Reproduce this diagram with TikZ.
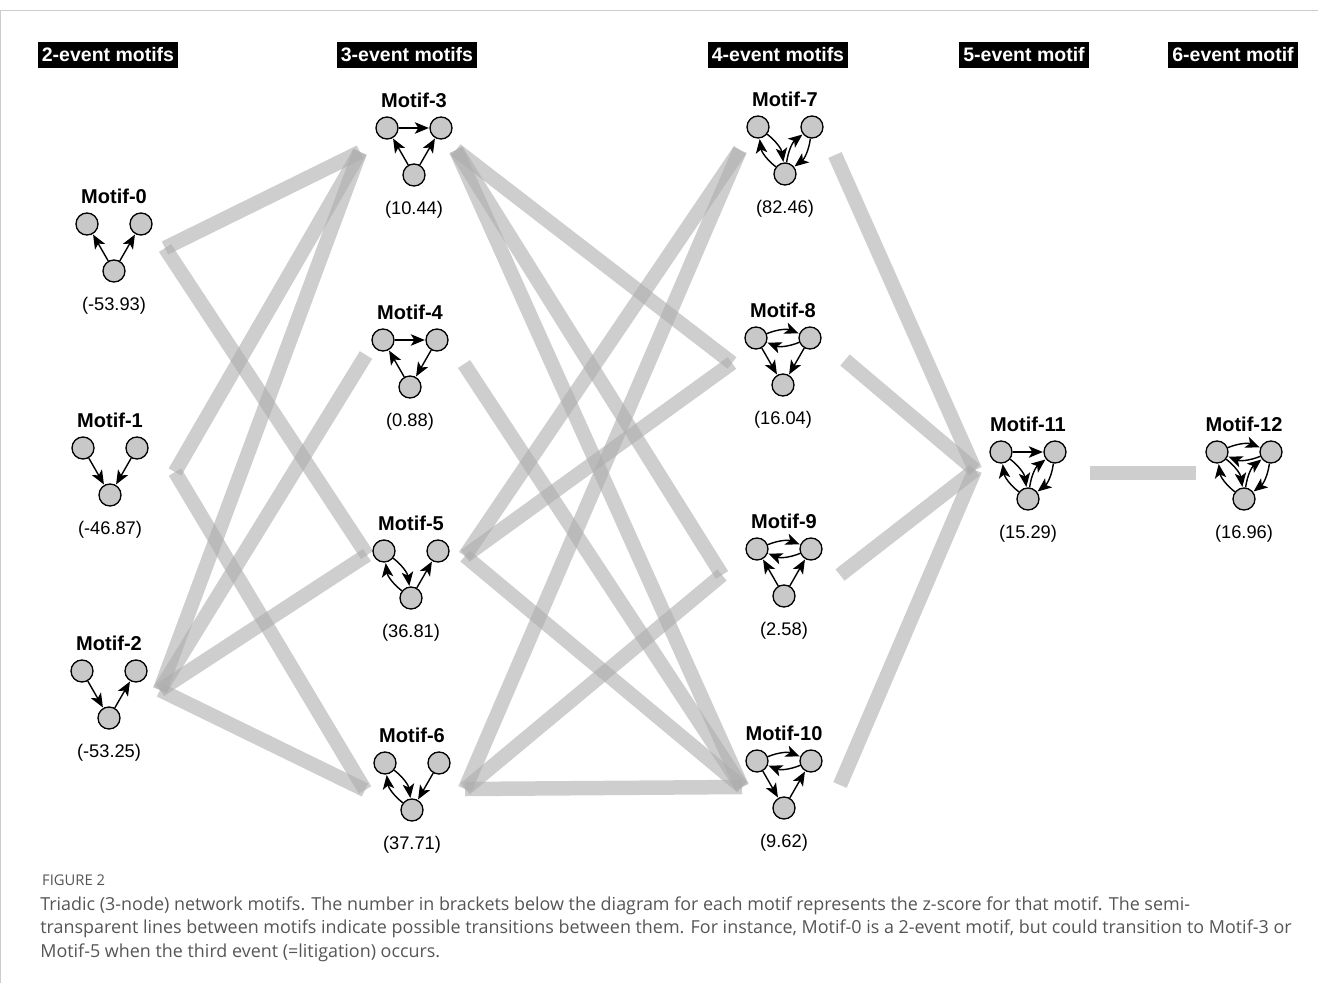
\documentclass[tikz,border=0pt]{standalone}
\usepackage{fontspec}
\setmainfont{Liberation Sans}
\newfontfamily\capfont{Open Sans}
\usetikzlibrary{arrows.meta}

\definecolor{dotgray}{RGB}{200,200,200}
\definecolor{capgray}{RGB}{85,85,85}

\tikzstyle{dot} = [circle, draw, line width=0.75pt, fill=dotgray, minimum size=0.44cm, inner sep=0pt]
\tikzstyle{arr} = [-{Stealth[length=0.28cm,width=0.23cm,inset=0.07cm]}, line width=0.8pt, shorten >=0.3pt]
\tikzstyle{mtitle} = [font=\bfseries\fontsize{11.4}{13}\selectfont]
\tikzstyle{score} = [font=\fontsize{10.4}{12}\selectfont]
\tikzstyle{hdr} = [fill=black, text=white, font=\bfseries\fontsize{11.1}{13}\selectfont, minimum height=0.5cm, inner xsep=0.08cm]
\tikzstyle{link} = [line width=0.29cm, draw=black!32, draw opacity=0.6]

% one triadic motif: name, x, y of upper row, title, z-score
\newcommand{\motif}[5]{%
\node[mtitle] (#1t) at (#2,#3-28) {#4};
\node[dot] (#1a) at (#2-27,#3) {};
\node[dot] (#1b) at (#2+27,#3) {};
\node[dot] (#1c) at (#2,#3+47) {};
\node[score] (#1s) at (#2,#3+82) {#5};
}

\begin{document}
\begin{tikzpicture}[x=0.02cm,y=-0.02cm]
\useasboundingbox (0,0) rectangle (1318,983);
\draw[black!20] (0,10) -- (1318,10);
\draw[black!20] (0.5,10) -- (0.5,983);

% ends of the transition lines
\coordinate (r0) at (165,248);
\coordinate (r1) at (175,472);
\coordinate (r2) at (160,690);
\coordinate (l3) at (360,152);
\coordinate (l4) at (366,355);
\coordinate (l5) at (367,555);
\coordinate (l6) at (365,790);
\coordinate (r3) at (456,150);
\coordinate (r4) at (464,364);
\coordinate (r5) at (465,556);
\coordinate (r6) at (465,789);
\coordinate (l7) at (740,150);
\coordinate (l8) at (732,363);
\coordinate (l9) at (722,575);
\coordinate (l10) at (742,787);
\coordinate (r7) at (835,155);
\coordinate (r8) at (845,360);
\coordinate (r9) at (840,575);
\coordinate (r10) at (840,785);
\coordinate (l11) at (975,470);
\coordinate (r11) at (1090,473);
\coordinate (l12) at (1196,473);

\draw[link] (r0) -- (l3);
\draw[link] (r0) -- (l5);
\draw[link] (r1) -- (l3);
\draw[link] (r1) -- (l6);
\draw[link] (r2) -- (l3);
\draw[link] (r2) -- (l4);
\draw[link] (r2) -- (l5);
\draw[link] (r2) -- (l6);
\draw[link] (r3) -- (l8);
\draw[link] (r3) -- (l9);
\draw[link] (r3) -- (l10);
\draw[link] (r4) -- (l10);
\draw[link] (r5) -- (l7);
\draw[link] (r5) -- (l8);
\draw[link] (r5) -- (l10);
\draw[link] (r6) -- (l7);
\draw[link] (r6) -- (l9);
\draw[link] (r6) -- (l10);
\draw[link] (r7) -- (l11);
\draw[link] (r8) -- (l11);
\draw[link] (r9) -- (l11);
\draw[link] (r10) -- (l11);
\draw[link] (r11) -- (l12);

% column headers
\node[hdr] (h2) at (108,55) {2-event motifs};
\node[hdr] (h3) at (407,55) {3-event motifs};
\node[hdr] (h4) at (778,55) {4-event motifs};
\node[hdr] (h5) at (1024,55) {5-event motif};
\node[hdr] (h6) at (1233,55) {6-event motif};

\motif{m0}{114}{224}{Motif-0}{(-53.93)}
\motif{m1}{110}{448}{Motif-1}{(-46.87)}
\motif{m2}{109}{671}{Motif-2}{(-53.25)}
\motif{m3}{414}{128}{Motif-3}{(10.44)}
\motif{m4}{410}{340}{Motif-4}{(0.88)}
\motif{m5}{411}{551}{Motif-5}{(36.81)}
\motif{m6}{412}{763}{Motif-6}{(37.71)}
\motif{m7}{785}{127}{Motif-7}{(82.46)}
\motif{m8}{783}{338}{Motif-8}{(16.04)}
\motif{m9}{784}{549}{Motif-9}{(2.58)}
\motif{m10}{784}{761}{Motif-10}{(9.62)}
\motif{m11}{1028}{452}{Motif-11}{(15.29)}
\motif{m12}{1244}{452}{Motif-12}{(16.96)}

% edges inside the motifs
\draw[arr] (m0c) -- (m0a);
\draw[arr] (m0c) -- (m0b);
\draw[arr] (m1a) -- (m1c);
\draw[arr] (m1b) -- (m1c);
\draw[arr] (m2a) -- (m2c);
\draw[arr] (m2c) -- (m2b);
\draw[arr] (m3a) -- (m3b);
\draw[arr] (m3c) -- (m3a);
\draw[arr] (m3c) -- (m3b);
\draw[arr] (m4a) -- (m4b);
\draw[arr] (m4b) -- (m4c);
\draw[arr] (m4c) -- (m4a);
\draw[arr] (m5a) to[bend left=22] (m5c);
\draw[arr] (m5c) to[bend left=22] (m5a);
\draw[arr] (m5c) -- (m5b);
\draw[arr] (m6a) to[bend left=22] (m6c);
\draw[arr] (m6c) to[bend left=22] (m6a);
\draw[arr] (m6b) -- (m6c);
\draw[arr] (m7a) to[bend left=22] (m7c);
\draw[arr] (m7c) to[bend left=22] (m7a);
\draw[arr] (m7b) to[bend left=22] (m7c);
\draw[arr] (m7c) to[bend left=22] (m7b);
\draw[arr] (m8a) to[bend left=22] (m8b);
\draw[arr] (m8b) to[bend left=22] (m8a);
\draw[arr] (m8a) -- (m8c);
\draw[arr] (m8b) -- (m8c);
\draw[arr] (m9a) to[bend left=22] (m9b);
\draw[arr] (m9b) to[bend left=22] (m9a);
\draw[arr] (m9c) -- (m9a);
\draw[arr] (m9c) -- (m9b);
\draw[arr] (m10a) to[bend left=22] (m10b);
\draw[arr] (m10b) to[bend left=22] (m10a);
\draw[arr] (m10a) -- (m10c);
\draw[arr] (m10c) -- (m10b);
\draw[arr] (m11a) -- (m11b);
\draw[arr] (m11a) to[bend left=22] (m11c);
\draw[arr] (m11c) to[bend left=22] (m11a);
\draw[arr] (m11b) to[bend left=22] (m11c);
\draw[arr] (m11c) to[bend left=22] (m11b);
\draw[arr] (m12a) to[bend left=22] (m12b);
\draw[arr] (m12b) to[bend left=22] (m12a);
\draw[arr] (m12a) to[bend left=22] (m12c);
\draw[arr] (m12c) to[bend left=22] (m12a);
\draw[arr] (m12b) to[bend left=22] (m12c);
\draw[arr] (m12c) to[bend left=22] (m12b);

% caption
\node[anchor=west, text=capgray, font=\capfont\fontsize{8.4}{10}\selectfont] (fig) at (36,880) {FIGURE 2};
\node[anchor=north west, align=left, inner sep=0pt, text=capgray, font=\capfont\fontsize{10.2}{13.6}\selectfont] (cap) at (40,896) {Triadic (3-node) network motifs. The number in brackets below the diagram for each motif represents the z-score for that motif. The semi-\\
transparent lines between motifs indicate possible transitions between them. For instance, Motif-0 is a 2-event motif, but could transition to Motif-3 or\\
Motif-5 when the third event (=litigation) occurs.};
\end{tikzpicture}
\end{document}
